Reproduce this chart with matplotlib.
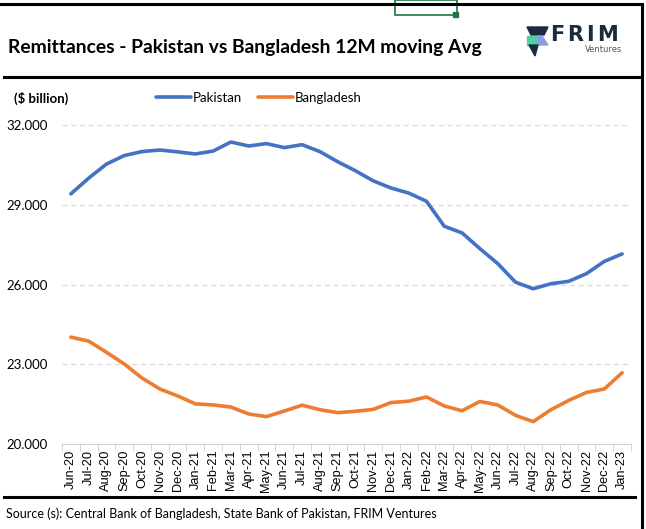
import matplotlib
matplotlib.use('Agg')
import matplotlib.pyplot as plt
from matplotlib.lines import Line2D
from matplotlib.patches import Polygon, Rectangle

months = ['Jun-20', 'Jul-20', 'Aug-20', 'Sep-20', 'Oct-20', 'Nov-20', 'Dec-20',
          'Jan-21', 'Feb-21', 'Mar-21', 'Apr-21', 'May-21', 'Jun-21', 'Jul-21',
          'Aug-21', 'Sep-21', 'Oct-21', 'Nov-21', 'Dec-21', 'Jan-22', 'Feb-22',
          'Mar-22', 'Apr-22', 'May-22', 'Jun-22', 'Jul-22', 'Aug-22', 'Sep-22',
          'Oct-22', 'Nov-22', 'Dec-22', 'Jan-23']
pakistan = [29.41, 30.00, 30.53, 30.85, 31.00, 31.06, 30.99, 30.91, 31.02, 31.36,
            31.21, 31.30, 31.15, 31.26, 31.00, 30.62, 30.28, 29.90, 29.63, 29.44,
            29.13, 28.19, 27.94, 27.35, 26.79, 26.09, 25.84, 26.03, 26.12, 26.41,
            26.87, 27.15]
bangladesh = [24.02, 23.87, 23.45, 23.01, 22.48, 22.07, 21.81, 21.51, 21.47, 21.39,
              21.13, 21.03, 21.24, 21.46, 21.29, 21.18, 21.23, 21.30, 21.56, 21.61,
              21.77, 21.43, 21.25, 21.60, 21.47, 21.08, 20.84, 21.29, 21.64, 21.94,
              22.07, 22.68]
yticks = [20, 23, 26, 29, 32]

W, H = 646, 529
fig = plt.figure(figsize=(W / 100, H / 100), dpi=100)


def px(x, y):
    return (x / W, 1 - y / H)


ax = fig.add_axes([62 / W, 1 - 444 / H, 569 / W, 319 / H])
x = list(range(len(months)))
ax.plot(x, pakistan, color='#4472C4', lw=2.6, solid_capstyle='round', label='Pakistan')
ax.plot(x, bangladesh, color='#ED7D31', lw=2.6, solid_capstyle='round', label='Bangladesh')

ax.set_xlim(-0.5, len(months) - 0.5)
ax.set_ylim(20, 32)
ax.set_yticks(yticks)
ax.set_yticklabels([f'{v:.3f}' for v in yticks], fontsize=9.5, fontfamily='Lato')
ax.set_xticks(x)
ax.set_xticklabels(months, rotation=90, fontsize=9.2, fontfamily='Liberation Sans')
ax.set_xticks([i - 0.5 for i in range(len(months) + 1)], minor=True)
ax.tick_params(axis='x', which='major', length=0, pad=4)
ax.tick_params(axis='x', which='minor', length=5, color='#d0d0d0')
ax.tick_params(axis='y', length=0, pad=10)
ax.grid(axis='y', color='#d9d9d9', ls=(0, (4, 3)), lw=0.9)
for s in ['top', 'right', 'left']:
    ax.spines[s].set_visible(False)
ax.spines['bottom'].set_color('#d0d0d0')

ax.legend(loc='center left', bbox_to_anchor=(px(156, 98)), bbox_transform=fig.transFigure,
          ncol=2, frameon=False, handlelength=2.65, handletextpad=0.15,
          columnspacing=1.2, borderaxespad=0, borderpad=0,
          prop={'family': 'Lato', 'size': 9.5})

# frame lines
fig.add_artist(Line2D([0, 641 / W], [1 - 4 / H] * 2, color='black', lw=2.2))
fig.add_artist(Line2D([642 / W] * 2, [1 - 4 / H, 0], color='black', lw=2.2))
fig.add_artist(Line2D([4 / W, 640 / W], [1 - 77 / H] * 2, color='black', lw=2.2))
fig.add_artist(Line2D([4 / W, 635 / W], [1 - 497 / H] * 2, color='black', lw=2.2))

# excel selection box
fig.add_artist(Rectangle(px(395, 15), 62 / W, 15 / H, fill=False, ec='#217346', lw=1.2))
fig.add_artist(Rectangle(px(453, 17), 5 / W, 5 / H, color='#217346'))

fig.text(*px(8, 47), 'Remittances - Pakistan vs Bangladesh 12M moving Avg',
         fontsize=13.9, fontweight='bold', fontfamily='Lato', va='center', ha='left')
fig.text(*px(14, 98), '($ billion)', fontsize=9.5, fontweight='bold', fontfamily='Lato',
         va='center', ha='left')
fig.text(*px(6, 514), 'Source (s): Central Bank of Bangladesh, State Bank of Pakistan, FRIM Ventures',
         fontsize=9, fontfamily='Lato', va='center', ha='left')

# logo
navy = '#1b2a3d'
fig.add_artist(Polygon([px(527, 27), px(548, 27), px(544, 35), px(531, 35)], closed=True, color=navy))
fig.add_artist(Polygon([px(527, 36), px(538, 36), px(538, 45), px(527, 45)], closed=True, color='#4fd1a5'))
fig.add_artist(Polygon([px(538, 36), px(542, 36), px(548, 45), px(538, 45)], closed=True, color='#8c9be8'))
fig.add_artist(Polygon([px(529, 45), px(538, 45), px(535, 56)], closed=True, color=navy))
for letter, lx in zip('FRIM', [550, 567, 586, 597]):
    fig.text(*px(lx, 35), letter, fontsize=15, fontweight='bold', fontfamily='DejaVu Sans',
             color=navy, va='center', ha='left')
fig.text(*px(622, 50), 'Ventures', fontsize=6, fontfamily='DejaVu Sans', color='#555555',
         va='center', ha='right')

fig.savefig('out.png', dpi=100)
